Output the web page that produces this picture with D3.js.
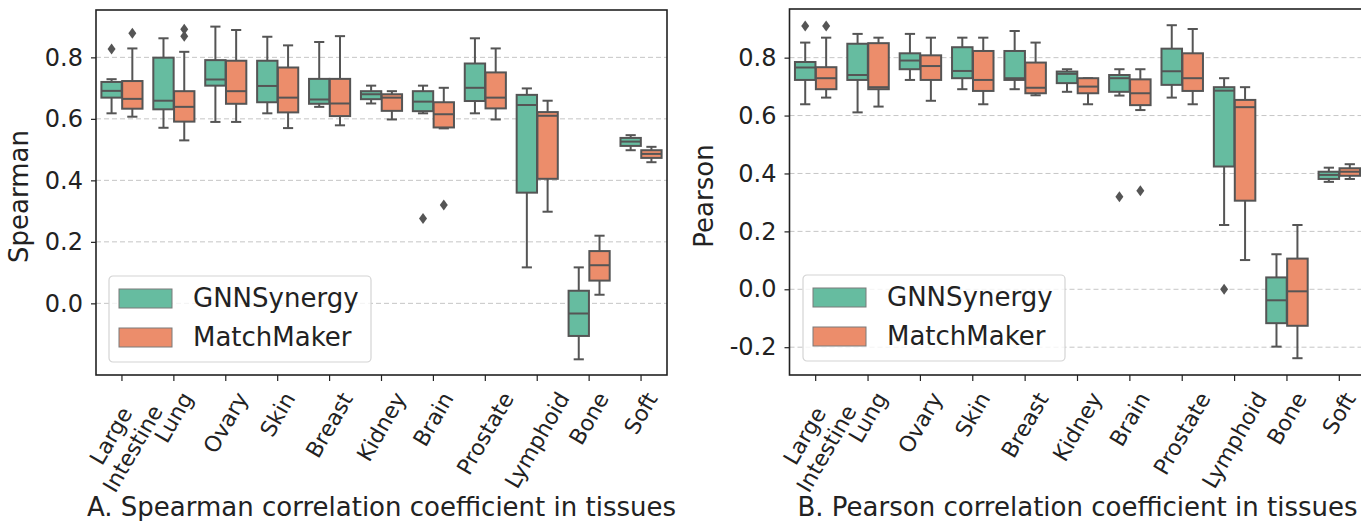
<!DOCTYPE html>
<html>
<head>
<meta charset="utf-8">
<script src="https://cdn.jsdelivr.net/npm/d3@7"></script>
<style>
  body { margin: 0; background: #fff; }
  svg { display: block; font-family: "DejaVu Sans", sans-serif; }
</style>
</head>
<body>
<svg id="chart" width="1361" height="521"></svg>
<script>
// Tissues on the x axis and the two models (hue)
const tissues = ['Large\nIntestine', 'Lung', 'Ovary', 'Skin', 'Breast', 'Kidney', 'Brain', 'Prostate', 'Lymphoid', 'Bone', 'Soft'];
const models = ['GNNSynergy', 'MatchMaker'];

// Box stats per tissue: [whisker low, q1, median, q3, whisker high]
const spearmanGNN = [
  [0.618, 0.669, 0.691, 0.720, 0.729],
  [0.571, 0.631, 0.659, 0.799, 0.862],
  [0.590, 0.708, 0.728, 0.791, 0.900],
  [0.618, 0.654, 0.707, 0.789, 0.867],
  [0.639, 0.649, 0.663, 0.730, 0.850],
  [0.650, 0.664, 0.680, 0.690, 0.708],
  [0.618, 0.625, 0.656, 0.690, 0.708],
  [0.618, 0.658, 0.701, 0.780, 0.862],
  [0.117, 0.360, 0.645, 0.678, 0.699],
  [-0.182, -0.106, -0.033, 0.041, 0.117],
  [0.498, 0.512, 0.526, 0.538, 0.547],
];
const spearmanMM = [
  [0.607, 0.633, 0.665, 0.723, 0.829],
  [0.530, 0.591, 0.639, 0.690, 0.818],
  [0.590, 0.649, 0.690, 0.789, 0.889],
  [0.570, 0.621, 0.669, 0.767, 0.839],
  [0.579, 0.609, 0.650, 0.730, 0.869],
  [0.598, 0.626, 0.669, 0.680, 0.690],
  [0.569, 0.572, 0.615, 0.654, 0.701],
  [0.598, 0.634, 0.669, 0.751, 0.829],
  [0.298, 0.405, 0.610, 0.622, 0.659],
  [0.028, 0.074, 0.124, 0.170, 0.220],
  [0.459, 0.473, 0.486, 0.498, 0.509],
];
const pearsonGNN = [
  [0.639, 0.723, 0.766, 0.785, 0.852],
  [0.611, 0.723, 0.740, 0.848, 0.882],
  [0.723, 0.760, 0.790, 0.815, 0.882],
  [0.691, 0.729, 0.754, 0.836, 0.869],
  [0.691, 0.723, 0.729, 0.823, 0.892],
  [0.682, 0.712, 0.744, 0.752, 0.760],
  [0.669, 0.682, 0.729, 0.740, 0.760],
  [0.662, 0.706, 0.753, 0.831, 0.912],
  [0.222, 0.424, 0.686, 0.698, 0.729],
  [-0.198, -0.117, -0.038, 0.041, 0.121],
  [0.371, 0.381, 0.395, 0.406, 0.420],
];
const pearsonMM = [
  [0.662, 0.691, 0.729, 0.767, 0.869],
  [0.631, 0.691, 0.698, 0.850, 0.869],
  [0.651, 0.723, 0.771, 0.808, 0.869],
  [0.639, 0.685, 0.723, 0.823, 0.869],
  [0.670, 0.677, 0.696, 0.783, 0.852],
  [0.639, 0.677, 0.700, 0.729, 0.729],
  [0.619, 0.636, 0.677, 0.725, 0.760],
  [0.639, 0.685, 0.729, 0.815, 0.899],
  [0.101, 0.306, 0.629, 0.654, 0.698],
  [-0.238, -0.126, -0.007, 0.106, 0.222],
  [0.381, 0.392, 0.406, 0.418, 0.432],
];

// Outliers: [tissue index, value]
const spearmanGNNOut = [[0, 0.827], [6, 0.276]];
const spearmanMMOut = [[0, 0.878], [1, 0.891], [1, 0.869], [6, 0.320]];
const pearsonGNNOut = [[0, 0.909], [6, 0.320], [8, 0.0]];
const pearsonMMOut = [[0, 0.909], [6, 0.340]];

const spearmanTicks = [0.0, 0.2, 0.4, 0.6, 0.8];
const pearsonTicks = [-0.2, 0.0, 0.2, 0.4, 0.6, 0.8];

const COLORS = ['#66bca0', '#ec8d6b'];
const EDGE = '#555';
const TEXT = '#222';

const svg = d3.select('#chart');

function drawPanel(cfg) {
  const { left, right, top, bottom, domain, ticks, stats, outliers, ylabel, ylabelX, title, legend } = cfg;
  const g = svg.append('g');

  const x = d3.scaleBand().domain(tissues).range([left, right]).padding(0);
  const hue = d3.scaleBand().domain(models)
    .range([0.1 * x.bandwidth(), 0.9 * x.bandwidth()]);
  const y = d3.scaleLinear().domain(domain).range([bottom, top]);

  // dashed horizontal grid
  g.append('g').selectAll('line')
    .data(ticks)
    .join('line')
    .attr('x1', left).attr('x2', right)
    .attr('y1', d => y(d)).attr('y2', d => y(d))
    .attr('stroke', '#c6c6c6')
    .attr('stroke-width', 1)
    .attr('stroke-dasharray', '5 3');

  // y axis
  const yAxis = g.append('g')
    .attr('transform', `translate(${left},0)`)
    .call(d3.axisLeft(y).tickValues(ticks).tickSize(5).tickPadding(8).tickFormat(d => d.toFixed(1)));
  yAxis.select('.domain').remove();
  yAxis.selectAll('line').attr('stroke', TEXT).attr('stroke-width', 1.2);
  yAxis.selectAll('text').attr('font-size', 24).attr('fill', TEXT).attr('font-family', '"DejaVu Sans", sans-serif');

  // x axis ticks
  const xAxis = g.append('g')
    .attr('transform', `translate(0,${bottom})`)
    .call(d3.axisBottom(x).tickSize(6).tickFormat(''));
  xAxis.select('.domain').remove();
  xAxis.selectAll('line').attr('stroke', TEXT).attr('stroke-width', 1.2);

  // rotated tick labels, centred under each tick
  const lab = g.append('g').selectAll('g')
    .data(tissues)
    .join('g');
  const txt = lab.append('g').attr('transform', 'rotate(-60)')
    .append('text')
    .attr('text-anchor', 'middle')
    .attr('font-size', 22)
    .attr('fill', TEXT);
  txt.selectAll('tspan')
    .data(d => d.split('\n'))
    .join('tspan')
    .attr('x', 0)
    .attr('dy', (d, i) => i ? '1.15em' : 0)
    .text(d => d);
  lab.each(function(d) {
    const b = this.getBBox();
    const tx = x(d) + x.bandwidth() / 2 - (b.x + b.width / 2);
    const ty = bottom + 13 - b.y;
    d3.select(this).attr('transform', `translate(${tx},${ty})`);
  });

  // boxes
  models.forEach((m, mi) => {
    const bw = hue.bandwidth() * 0.98;
    const rows = stats[mi].map((s, i) => ({
      t: tissues[i], lo: s[0], q1: s[1], med: s[2], q3: s[3], hi: s[4],
      cx: x(tissues[i]) + hue(m) + hue.bandwidth() / 2,
    }));
    const bg = g.append('g').selectAll('g').data(rows).join('g');

    // whiskers
    bg.append('line')
      .attr('x1', d => d.cx).attr('x2', d => d.cx)
      .attr('y1', d => y(d.hi)).attr('y2', d => y(d.q3))
      .attr('stroke', EDGE).attr('stroke-width', 2);
    bg.append('line')
      .attr('x1', d => d.cx).attr('x2', d => d.cx)
      .attr('y1', d => y(d.q1)).attr('y2', d => y(d.lo))
      .attr('stroke', EDGE).attr('stroke-width', 2);
    // caps
    ['hi', 'lo'].forEach(k => {
      bg.append('line')
        .attr('x1', d => d.cx - bw / 4).attr('x2', d => d.cx + bw / 4)
        .attr('y1', d => y(d[k])).attr('y2', d => y(d[k]))
        .attr('stroke', EDGE).attr('stroke-width', 2);
    });
    // box
    bg.append('rect')
      .attr('x', d => d.cx - bw / 2)
      .attr('width', bw)
      .attr('y', d => y(d.q3))
      .attr('height', d => y(d.q1) - y(d.q3))
      .attr('fill', COLORS[mi])
      .attr('stroke', EDGE).attr('stroke-width', 2);
    // median
    bg.append('line')
      .attr('x1', d => d.cx - bw / 2).attr('x2', d => d.cx + bw / 2)
      .attr('y1', d => y(d.med)).attr('y2', d => y(d.med))
      .attr('stroke', EDGE).attr('stroke-width', 2);

    // outliers as thin diamonds
    g.append('g').selectAll('path')
      .data(outliers[mi])
      .join('path')
      .attr('d', 'M0,-5.5L4,0L0,5.5L-4,0Z')
      .attr('transform', d => `translate(${x(tissues[d[0]]) + hue(m) + hue.bandwidth() / 2},${y(d[1])})`)
      .attr('fill', EDGE);
  });

  // frame
  g.append('rect')
    .attr('x', left).attr('y', top)
    .attr('width', right - left).attr('height', bottom - top)
    .attr('fill', 'none')
    .attr('stroke', TEXT)
    .attr('stroke-width', 1.6);

  // legend
  const lg = g.append('g').attr('transform', `translate(${legend.x},${legend.y})`);
  lg.append('rect')
    .attr('width', legend.w).attr('height', 86)
    .attr('rx', 4)
    .attr('fill', '#fff').attr('fill-opacity', 0.8)
    .attr('stroke', '#d4d4d4').attr('stroke-width', 1.2);
  const items = lg.selectAll('g.item').data(models).join('g')
    .attr('class', 'item')
    .attr('transform', (d, i) => `translate(10,${13 + i * 39})`);
  items.append('rect')
    .attr('width', 53).attr('height', 19)
    .attr('fill', (d, i) => COLORS[i])
    .attr('stroke', '#7a7a7a').attr('stroke-width', 1);
  items.append('text')
    .attr('x', 74).attr('y', 18)
    .attr('font-size', 26)
    .attr('fill', TEXT)
    .text(d => d);

  // y label
  g.append('text')
    .attr('transform', `translate(${ylabelX},${(top + bottom) / 2 + 4})rotate(-90)`)
    .attr('text-anchor', 'middle')
    .attr('font-size', 26)
    .attr('fill', TEXT)
    .text(ylabel);

  // panel caption
  g.append('text')
    .attr('x', (left + right) / 2)
    .attr('y', 516)
    .attr('text-anchor', 'middle')
    .attr('font-size', 26)
    .attr('fill', TEXT)
    .text(title);
}

drawPanel({
  left: 96, right: 667, top: 10, bottom: 375,
  domain: [-0.233, 0.954],
  ticks: spearmanTicks,
  stats: [spearmanGNN, spearmanMM],
  outliers: [spearmanGNNOut, spearmanMMOut],
  ylabel: 'Spearman', ylabelX: 28,
  title: 'A. Spearman correlation coefficient in tissues',
  legend: { x: 109, y: 276, w: 262 },
});

drawPanel({
  left: 789.5, right: 1365.5, top: 9, bottom: 375,
  domain: [-0.296, 0.968],
  ticks: pearsonTicks,
  stats: [pearsonGNN, pearsonMM],
  outliers: [pearsonGNNOut, pearsonMMOut],
  ylabel: 'Pearson', ylabelX: 713,
  title: 'B. Pearson correlation coefficient in tissues',
  legend: { x: 803, y: 275, w: 262 },
});
</script>
</body>
</html>
